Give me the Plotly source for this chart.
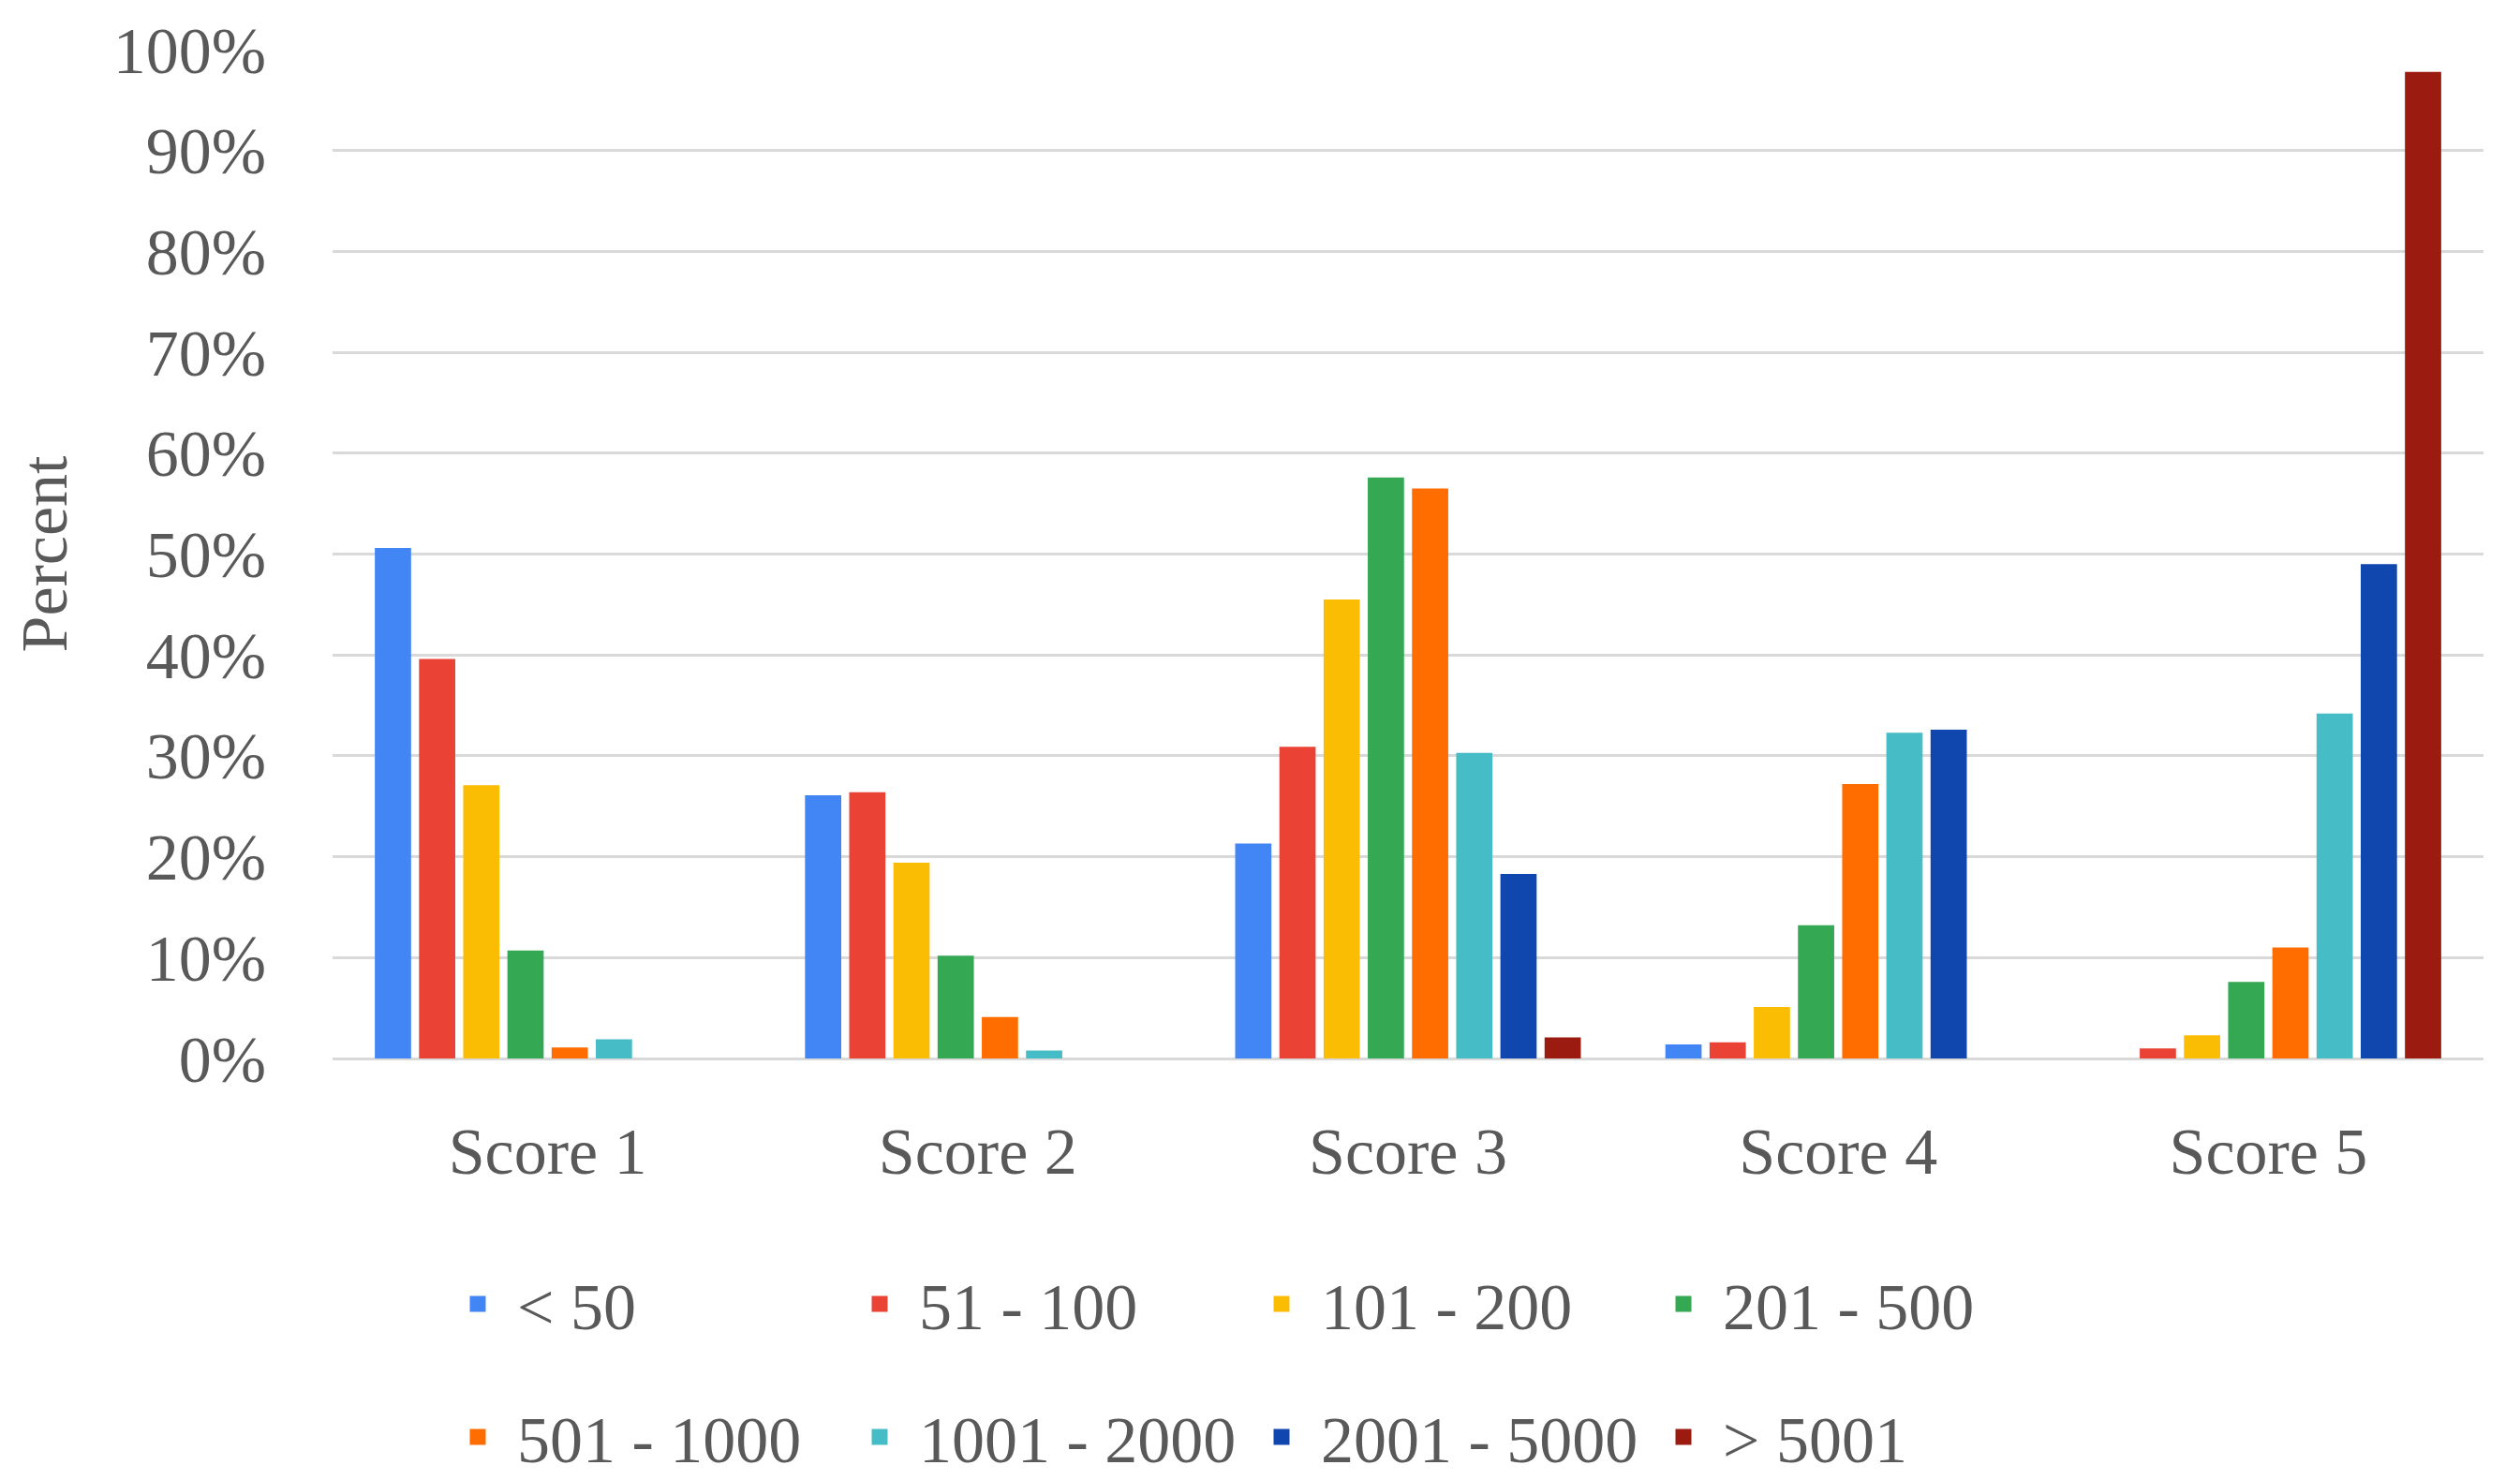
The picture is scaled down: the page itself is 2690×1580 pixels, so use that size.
import plotly.graph_objects as go

categories = ["Score 1", "Score 2", "Score 3", "Score 4", "Score 5"]
series_names = ["< 50", "51 - 100", "101 - 200", "201 - 500",
                "501 - 1000", "1001 - 2000", "2001 - 5000", "> 5001"]
colors = ["#4285F4", "#EA4335", "#FBBC04", "#34A853",
          "#FF6D01", "#46BDC6", "#0F47AF", "#9B1B11"]

lt50 = [0.506, 0.261, 0.213, 0.014, 0.0]
s51_100 = [0.396, 0.264, 0.309, 0.016, 0.010]
s101_200 = [0.271, 0.194, 0.455, 0.051, 0.023]
s201_500 = [0.107, 0.102, 0.576, 0.132, 0.076]
s501_1000 = [0.011, 0.041, 0.565, 0.272, 0.110]
s1001_2000 = [0.019, 0.008, 0.303, 0.323, 0.342]
s2001_5000 = [0.0, 0.0, 0.183, 0.326, 0.490]
gt5001 = [0.0, 0.0, 0.021, 0.0, 0.978]

series_values = [lt50, s51_100, s101_200, s201_500,
                 s501_1000, s1001_2000, s2001_5000, gt5001]

tick_vals = [0, 0.1, 0.2, 0.3, 0.4, 0.5, 0.6, 0.7, 0.8, 0.9, 1.0]
tick_text = ["0%", "10%", "20%", "30%", "40%", "50%", "60%", "70%", "80%", "90%", "100%"]

FONT = "Liberation Serif"
GRAY = "#595959"
FS = 70

fig = go.Figure()
for i, (name, vals, col) in enumerate(zip(series_names, series_values, colors)):
    # visible data bars
    fig.add_trace(go.Bar(
        x=categories, y=vals, name=name,
        marker=dict(color=col, line=dict(width=0)),
        showlegend=False,
    ))
for i, (name, col) in enumerate(zip(series_names, colors)):
    # legend entries (drawn on a hidden overlay axis so the swatch can be larger)
    fig.add_trace(go.Bar(
        x=[categories[0]], y=[0], name=name,
        marker=dict(color=col, line=dict(width=5, color=col)),
        xaxis="x2", yaxis="y2", hoverinfo="skip",
        legend="legend" if i < 4 else "legend2",
    ))

legend_common = dict(
    orientation="h",
    xref="container", yref="container",
    xanchor="left", yanchor="middle",
    x=468 / 2690,
    font=dict(family=FONT, size=FS, color=GRAY),
    entrywidth=340,
    entrywidthmode="pixels",
    itemwidth=74,
    bgcolor="rgba(0,0,0,0)",
    traceorder="normal",
)

fig.update_layout(
    width=2690, height=1580,
    paper_bgcolor="white", plot_bgcolor="white",
    margin=dict(l=355, r=39, t=53, b=450),
    barmode="group",
    bargap=0.178,
    bargroupgap=0.18,
    font=dict(family=FONT, size=FS, color=GRAY),
    legend=dict(legend_common, y=1 - 1392 / 1580),
    legend2=dict(legend_common, y=1 - 1534 / 1580),
    xaxis=dict(
        tickfont=dict(family=FONT, size=FS, color=GRAY),
        showline=False, showgrid=False, ticks="",
        ticklabelstandoff=52,
    ),
    yaxis=dict(
        range=[0, 1.0],
        tickvals=tick_vals, ticktext=tick_text,
        tickfont=dict(family=FONT, size=FS, color=GRAY),
        showgrid=True, gridcolor="#D9D9D9", gridwidth=3,
        zeroline=True, zerolinecolor="#D9D9D9", zerolinewidth=3,
        showline=False, ticks="",
        ticklabelstandoff=70,
        title=dict(text="Percent", font=dict(family=FONT, size=FS, color=GRAY), standoff=26),
    ),
    xaxis2=dict(overlaying="x", visible=False, matches=None),
    yaxis2=dict(overlaying="y", visible=False, range=[1, 2]),
)

fig.write_html("out.html", config={"displayModeBar": False},
               post_script="document.body.style.margin='0';")
